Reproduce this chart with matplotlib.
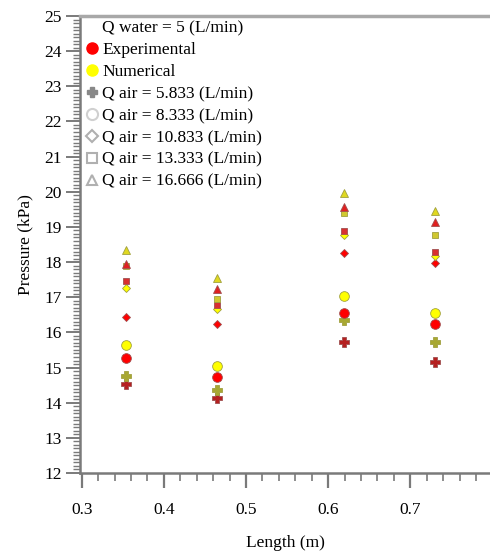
import matplotlib
matplotlib.use("Agg")
import matplotlib.pyplot as plt
from matplotlib.lines import Line2D
from matplotlib.ticker import MultipleLocator

plt.rcParams['font.family'] = ['Liberation Serif', 'DejaVu Serif']

# tube lengths (m)
length = [0.354, 0.465, 0.619, 0.73]

# pressure (kPa) per air flow rate, experimental / numerical
exp_5833 = [14.53, 14.12, 15.73, 15.15]
num_5833 = [14.76, 14.36, 16.35, 15.73]
exp_8333 = [15.26, 14.73, 16.54, 16.25]
num_8333 = [15.64, 15.05, 17.04, 16.56]
exp_10833 = [16.45, 16.25, 18.27, 17.96]
num_10833 = [17.25, 16.66, 18.77, 18.17]
exp_13333 = [17.47, 16.77, 18.88, 18.29]
num_13333 = [17.90, 16.96, 19.39, 18.77]
exp_16666 = [17.94, 17.24, 19.56, 19.15]
num_16666 = [18.34, 17.55, 19.96, 19.45]

legend_labels = ["Q water = 5 (L/min)", "Experimental", "Numerical",
                 "Q air = 5.833 (L/min)", "Q air = 8.333 (L/min)",
                 "Q air = 10.833 (L/min)", "Q air = 13.333 (L/min)",
                 "Q air = 16.666 (L/min)"]

RED = "#ff0000"
YEL = "#ffff00"

fig = plt.figure(figsize=(4.9, 5.55), dpi=100)
ax = fig.add_axes([80 / 490, 82 / 555, 410 / 490, 457 / 555])

series = [
    (exp_5833, num_5833, "P", 7, ("#b52020", "#a8a832")),
    (exp_8333, num_8333, "o", 7, (RED, YEL)),
    (exp_10833, num_10833, "D", 4.5, (RED, YEL)),
    (exp_13333, num_13333, "s", 4.5, ("#d83030", "#d0c830")),
    (exp_16666, num_16666, "^", 5.5, ("#e02020", "#e0d820")),
]
for e, n, m, ms, (ce, cn) in series:
    ax.plot(length, e, ls="none", marker=m, ms=ms, mfc=ce, mec="#a05050", mew=0.6)
    ax.plot(length, n, ls="none", marker=m, ms=ms, mfc=cn, mec="#a0a040", mew=0.6)

ax.set_xlim(0.298, 0.797)
ax.set_ylim(12, 25)
ax.xaxis.set_major_locator(MultipleLocator(0.1))
ax.xaxis.set_minor_locator(MultipleLocator(0.02))
ax.yaxis.set_major_locator(MultipleLocator(1))
ax.yaxis.set_minor_locator(MultipleLocator(0.1))
ax.xaxis.set_major_formatter(matplotlib.ticker.FormatStrFormatter("%.1f"))
ax.set_xticks([0.3, 0.4, 0.5, 0.6, 0.7])

gray = "#7a7a7a"
for s in ("left", "bottom"):
    ax.spines[s].set_color(gray)
    ax.spines[s].set_linewidth(1.8)
ax.spines["right"].set_visible(False)
ax.spines["top"].set_color("#a8a8a8")
ax.spines["top"].set_linewidth(2.5)

ax.tick_params(axis="y", which="major", length=10, width=1.4, color=gray,
               labelsize=12.5, pad=3)
ax.tick_params(axis="y", which="minor", length=5, width=1.0, color=gray)
ax.tick_params(axis="x", which="major", length=11, width=1.6, color=gray,
               labelsize=12.5, pad=10)
ax.tick_params(axis="x", which="minor", length=6, width=1.2, color=gray)

ax.set_xlabel("Length (m)", fontsize=12.5, labelpad=12)
ax.set_ylabel("Pressure (kPa)", fontsize=12.5, labelpad=8)

lg = "#b0b0b0"
handles = [
    Line2D([], [], ls="none"),
    Line2D([], [], ls="none", marker="o", ms=8, mfc=RED, mec=RED),
    Line2D([], [], ls="none", marker="o", ms=8, mfc=YEL, mec=YEL),
    Line2D([], [], ls="none", marker="P", ms=7, mfc="#888888", mec="#888888"),
    Line2D([], [], ls="none", marker="o", ms=8, mfc="none", mec="#d0d0d0", mew=1.5),
    Line2D([], [], ls="none", marker="D", ms=6, mfc="none", mec=lg, mew=1.5),
    Line2D([], [], ls="none", marker="s", ms=7, mfc="none", mec=lg, mew=1.5),
    Line2D([], [], ls="none", marker="^", ms=7, mfc="none", mec=lg, mew=1.5),
]
ax.legend(handles, legend_labels, loc="upper left", frameon=False,
          fontsize=12.5, labelspacing=0.33, handlelength=0.8, handletextpad=0.15,
          borderpad=0.2, borderaxespad=0.0, bbox_to_anchor=(0.005, 0.998))

fig.savefig("out.png", dpi=100)
